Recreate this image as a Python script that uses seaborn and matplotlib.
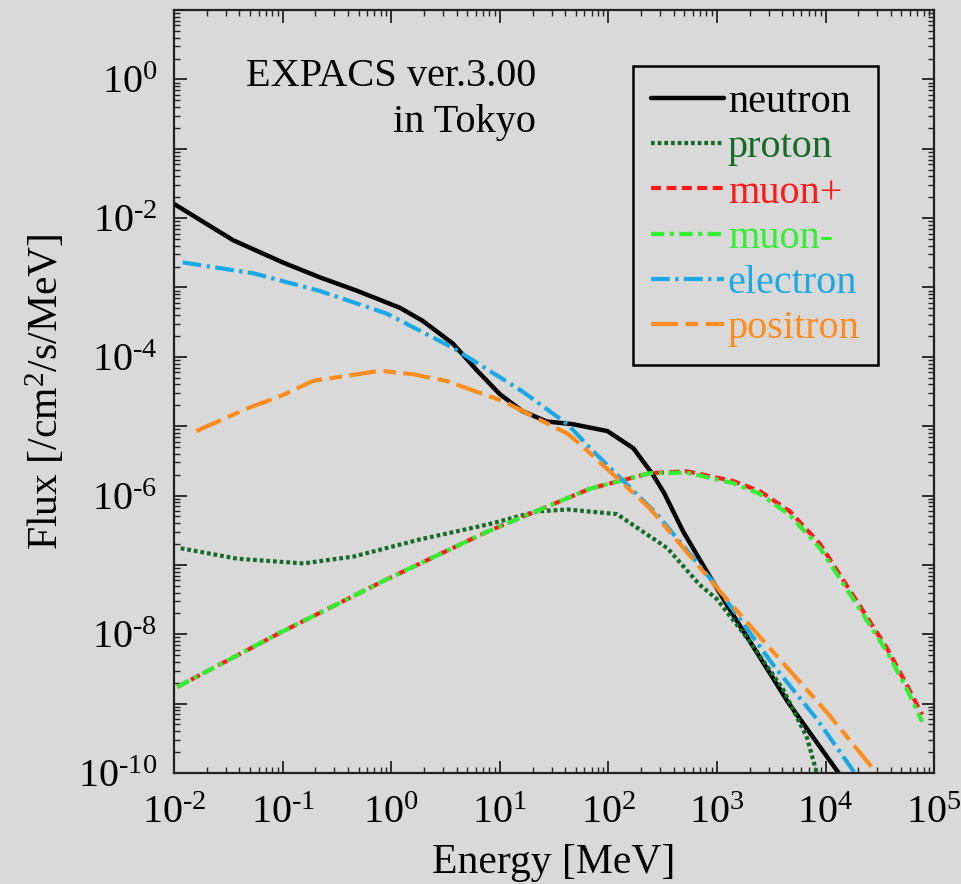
import math
import matplotlib
matplotlib.use("Agg")
import matplotlib.pyplot as plt
import matplotlib.ticker as mticker
import pandas as pd
import seaborn as sns

# Energy [MeV] and flux [/cm2/s/MeV]
neutron_e = [0.01, 0.035, 0.1, 0.22, 0.49, 1.2, 1.95, 3.7, 6.2, 10, 16, 27, 47, 98,
             170, 257, 325, 490, 912, 1410, 3300, 4470, 13200, 16000]
neutron_f = [1.6e-2, 4.8e-3, 2.3e-3, 1.4e-3, 8.9e-4, 5.1e-4, 3.3e-4, 1.55e-4, 6.3e-5,
             2.9e-5, 1.66e-5, 1.17e-5, 1.07e-5, 8.5e-6, 4.8e-6, 2.0e-6, 1.1e-6, 3.0e-7,
             5.8e-8, 1.9e-8, 2.3e-9, 1.07e-9, 1.0e-10, 6.6e-11]

proton_e = [0.0115, 0.038, 0.155, 0.45, 1.86, 7.6, 22, 42, 120, 350, 690, 1000, 2040,
            4070, 6760, 8300, 9100]
proton_f = [1.74e-7, 1.23e-7, 1.05e-7, 1.32e-7, 2.34e-7, 3.8e-7, 5.9e-7, 6.3e-7, 5.4e-7,
            1.74e-7, 5.2e-8, 3.2e-8, 7.6e-9, 1.6e-9, 3.2e-10, 1.0e-10, 6.3e-11]

muon_e = [0.0107, 0.1, 0.91, 7.6, 36, 68, 240, 525, 1410, 2500, 4700, 8900, 17800,
          37000, 56000, 77600]
muon_p_f = [1.74e-9, 1.1e-8, 6.2e-8, 3.0e-7, 8.3e-7, 1.26e-6, 2.1e-6, 2.24e-6, 1.62e-6,
            1.15e-6, 5.9e-7, 2.0e-7, 3.7e-8, 6.2e-9, 1.86e-9, 6.9e-10]
muon_m_f = [1.74e-9, 1.1e-8, 6.2e-8, 3.0e-7, 8.3e-7, 1.26e-6, 2.1e-6, 2.14e-6, 1.51e-6,
            1.05e-6, 5.2e-7, 1.74e-7, 3.3e-8, 5.5e-9, 1.62e-9, 5.5e-10]

electron_e = [0.012, 0.054, 0.22, 0.91, 3.7, 16, 42, 72, 280, 910, 3300, 8300, 18600, 22400]
electron_f = [2.3e-3, 1.6e-3, 8.9e-4, 4.2e-4, 1.35e-4, 3.2e-5, 1.07e-5, 4.4e-6, 5.4e-7,
              5.8e-8, 3.6e-9, 6.0e-10, 1.0e-10, 7.0e-11]

positron_e = [0.016, 0.047, 0.1, 0.19, 0.79, 1.6, 3.2, 10.7, 42, 55, 240, 1230, 3100,
              10200, 29500, 35500]
positron_f = [8.5e-6, 1.8e-5, 2.8e-5, 4.5e-5, 6.3e-5, 5.6e-5, 4.5e-5, 2.3e-5, 7.8e-6,
              5.5e-6, 6.6e-7, 3.2e-8, 6.2e-9, 7.6e-10, 1.0e-10, 7.0e-11]

bg = "#d9d9d9"
sns.set_theme(style="ticks")
plt.rcParams["font.family"] = ["Liberation Serif", "DejaVu Serif"]
plt.rcParams["mathtext.fontset"] = "custom"
plt.rcParams["mathtext.rm"] = "Liberation Serif"
plt.rcParams["mathtext.it"] = "Liberation Serif:italic"
plt.rcParams["text.color"] = "black"
plt.rcParams["axes.labelcolor"] = "black"

fig = plt.figure(figsize=(9.62, 8.84), dpi=100, facecolor=bg)
ax = fig.add_axes([0.181, 0.1256, 0.790, 0.863], facecolor=bg)
ax.set_xscale("log")
ax.set_yscale("log")

series = [
    ("neutron", neutron_e, neutron_f, "black", "-", 3.2),
    ("proton", proton_e, proton_f, "#156b27", (0, (0.9, 0.7)), 3.0),
    ("muon+", muon_e, muon_p_f, "#ff1a1a", (0, (2.4, 1.3)), 3.0),
    ("muon-", muon_e, muon_m_f, "#33ee33", (0, (3.2, 1.3, 1.0, 1.3)), 3.0),
    ("electron", electron_e, electron_f, "#1ba8e4", (0, (4.5, 1.3, 0.8, 1.3)), 3.0),
    ("positron", positron_e, positron_f, "#ff8c1e", (0, (6.5, 1.8, 3.0, 1.8)), 3.0),
]

for name, e, f, col, ls, lw in series:
    df = pd.DataFrame({"energy": e, "flux": f})
    sns.lineplot(data=df, x="energy", y="flux", ax=ax, color=col, linestyle=ls,
                 linewidth=lw, label=name, estimator=None, sort=False)

ax.set_xlim(1e-2, 1e5)
ax.set_ylim(1e-10, 1e1)


def pow_label(k):
    if k < 0:
        return r"$\mathdefault{10^{\text{-}%d}}$" % (-k)
    return r"$\mathdefault{10^{%d}}$" % k


def xlab(v, pos):
    return pow_label(round(math.log10(v)))


def ylab(v, pos):
    k = round(math.log10(v))
    return pow_label(k) if k % 2 == 0 else ""


ax.xaxis.set_major_locator(mticker.LogLocator(base=10, numticks=20))
ax.xaxis.set_minor_locator(mticker.LogLocator(base=10, subs=range(2, 10), numticks=20))
ax.xaxis.set_major_formatter(mticker.FuncFormatter(xlab))
ax.yaxis.set_major_locator(mticker.LogLocator(base=10, numticks=30))
ax.yaxis.set_minor_locator(mticker.LogLocator(base=10, subs=range(2, 10), numticks=30))
ax.yaxis.set_major_formatter(mticker.FuncFormatter(ylab))

ax.tick_params(which="both", direction="in", top=True, right=True, colors="#222222",
               labelcolor="black")
ax.tick_params(axis="x", which="major", length=9, width=1.3, labelsize=29, pad=16)
ax.tick_params(axis="y", which="major", length=9, width=1.3, labelsize=29, pad=12)
ax.tick_params(which="minor", length=4.5, width=1.0)
for s in ax.spines.values():
    s.set_linewidth(1.6)
    s.set_color("#222222")

ax.set_xlabel("Energy [MeV]", fontsize=30, labelpad=8)
ax.set_ylabel("Flux [/cm$^2$/s/MeV]", fontsize=30, labelpad=8)

ax.text(0.476, 0.937, "EXPACS ver.3.00\nin Tokyo", transform=ax.transAxes,
        ha="right", va="top", fontsize=29, linespacing=1.3)

leg = ax.legend(loc="upper right", bbox_to_anchor=(0.926, 0.927), borderaxespad=0,
                fontsize=29, frameon=True, fancybox=False, edgecolor="black",
                facecolor=bg, framealpha=1, handlelength=1.8, handletextpad=0.1,
                labelspacing=0.2, borderpad=0.45)
leg.get_frame().set_linewidth(1.8)
for txt, (_, _, _, col, _, _) in zip(leg.get_texts(), series):
    txt.set_color(col)

fig.savefig("out.png", dpi=100, facecolor=bg)
